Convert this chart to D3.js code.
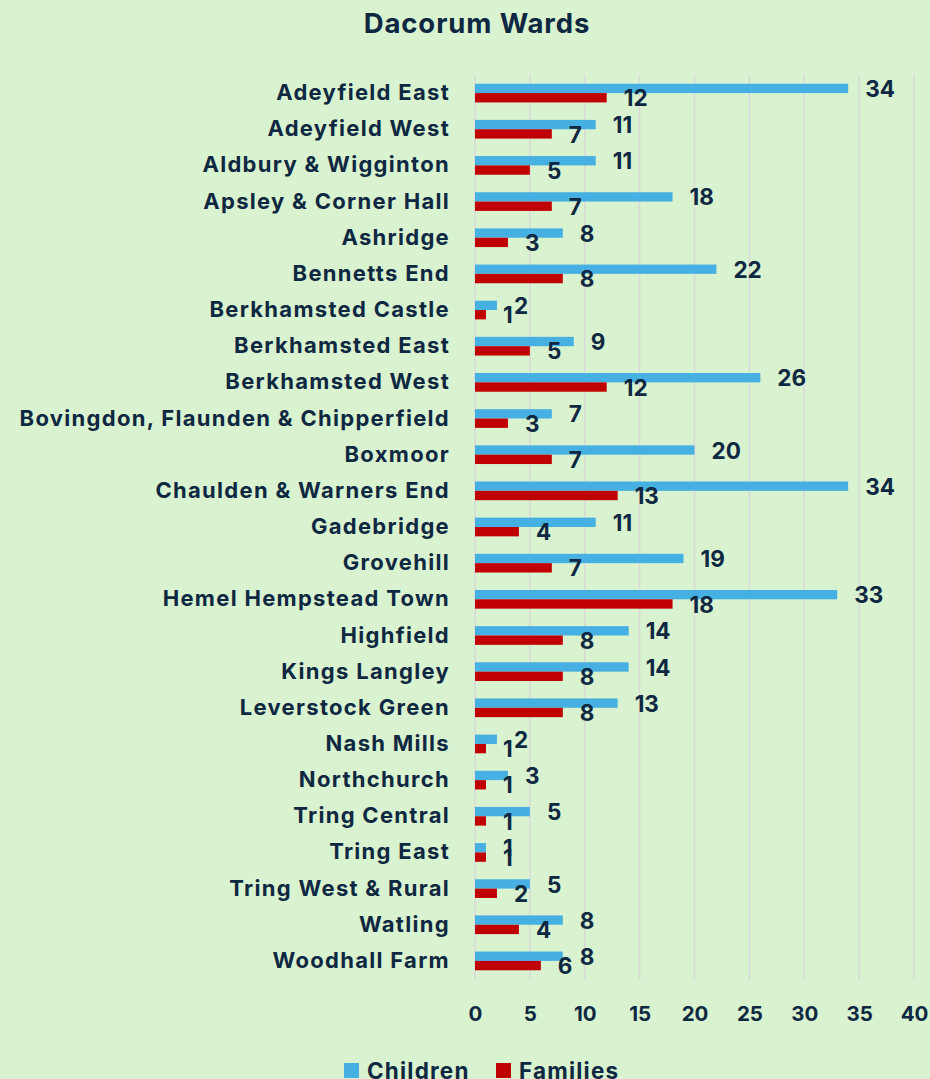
<!DOCTYPE html>
<html>
<head>
<meta charset="utf-8">
<script src="https://cdn.jsdelivr.net/npm/d3@7"></script>
<style>
  body { margin: 0; background: #d9f2d0; }
  svg text { font-family: Inter, "Open Sans", "DejaVu Sans", sans-serif; font-weight: 700; fill: #0e2841; }
</style>
</head>
<body>
<svg id="chart"></svg>
<script>
// ward names, top to bottom
var wards = ["Adeyfield East", "Adeyfield West", "Aldbury & Wigginton", "Apsley & Corner Hall",
  "Ashridge", "Bennetts End", "Berkhamsted Castle", "Berkhamsted East", "Berkhamsted West",
  "Bovingdon, Flaunden & Chipperfield", "Boxmoor", "Chaulden & Warners End", "Gadebridge",
  "Grovehill", "Hemel Hempstead Town", "Highfield", "Kings Langley", "Leverstock Green",
  "Nash Mills", "Northchurch", "Tring Central", "Tring East", "Tring West & Rural",
  "Watling", "Woodhall Farm"];

var children = [34, 11, 11, 18, 8, 22, 2, 9, 26, 7, 20, 34, 11, 19, 33, 14, 14, 13, 2, 3, 5, 1, 5, 8, 8];
var families = [12, 7, 5, 7, 3, 8, 1, 5, 12, 3, 7, 13, 4, 7, 18, 8, 8, 8, 1, 1, 1, 1, 2, 4, 6];

var seriesNames = ["Children", "Families"];
var seriesColors = ["#47b0e2", "#c00000"];
var xTicks = [0, 5, 10, 15, 20, 25, 30, 35, 40];

var width = 930, height = 1079;
var svg = d3.select("#chart").attr("width", width).attr("height", height);

// build rows from the arrays
var rows = wards.map(function (w, i) {
  return { ward: w, values: [children[i], families[i]] };
});

// setup x
var x = d3.scaleLinear().domain([0, 40]).range([475, 914]);

// setup y: one band per ward, inner band per series
var y = d3.scaleBand().domain(wards).range([75, 979])
  .paddingInner(0.483).paddingOuter(0.2415);
var ySub = d3.scaleBand().domain(seriesNames).range([0, y.bandwidth()]);

// title
svg.append("text")
  .attr("x", 477).attr("y", 33)
  .attr("text-anchor", "middle")
  .style("font-size", "27.5px")
  .style("letter-spacing", "0.9px")
  .text("Dacorum Wards");

// gridlines
svg.append("g").selectAll("line")
  .data(xTicks)
  .enter().append("line")
  .attr("x1", function (d) { return x(d); })
  .attr("x2", function (d) { return x(d); })
  .attr("y1", 75).attr("y2", 979)
  .attr("stroke", "#d9d9d9")
  .attr("stroke-width", 1.5);

// x axis labels
var xAxis = d3.axisBottom(x).tickValues(xTicks).tickSize(0).tickPadding(0);
var gx = svg.append("g").attr("transform", "translate(0,1006)").call(xAxis);
gx.select(".domain").remove();
gx.selectAll("text")
  .attr("dy", "0.71em")
  .style("font-size", "20.5px")
  .style("font-family", null)
  .attr("fill", null);

// category labels
var yAxis = d3.axisLeft(y).tickSize(0).tickPadding(0);
var gy = svg.append("g").attr("transform", "translate(450,0)").call(yAxis);
gy.select(".domain").remove();
gy.selectAll("text")
  .style("font-size", "22px")
  .style("letter-spacing", "1.3px")
  .style("font-family", null)
  .attr("fill", null);

// draw bars
var groups = svg.append("g").selectAll(".row")
  .data(rows)
  .enter().append("g")
  .attr("class", "row")
  .attr("transform", function (d) { return "translate(0," + y(d.ward) + ")"; });

groups.selectAll("rect")
  .data(function (d) { return d.values; })
  .enter().append("rect")
  .attr("x", x(0))
  .attr("y", function (d, i) { return ySub(seriesNames[i]); })
  .attr("width", function (d) { return x(d) - x(0); })
  .attr("height", ySub.bandwidth())
  .attr("fill", function (d, i) { return seriesColors[i]; });

// value labels
groups.selectAll(".lbl")
  .data(function (d) { return d.values; })
  .enter().append("text")
  .attr("class", "lbl")
  .attr("x", function (d) { return x(d) + 17; })
  .attr("y", function (d, i) { return ySub(seriesNames[i]) + ySub.bandwidth() / 2 + 0.5; })
  .attr("dy", "0.36em")
  .style("font-size", "22.5px")
  .text(function (d) { return d; });

// legend
var legend = svg.append("g").selectAll(".leg")
  .data(seriesNames)
  .enter().append("g")
  .attr("class", "leg")
  .attr("transform", function (d, i) { return "translate(" + [344, 496][i] + ",1063)"; });

legend.append("rect")
  .attr("width", 15).attr("height", 15)
  .attr("fill", function (d, i) { return seriesColors[i]; });

legend.append("text")
  .attr("x", 23).attr("y", 8)
  .attr("dy", "0.36em")
  .style("font-size", "22.5px")
  .style("letter-spacing", "1.2px")
  .text(function (d) { return d; });
</script>
</body>
</html>
